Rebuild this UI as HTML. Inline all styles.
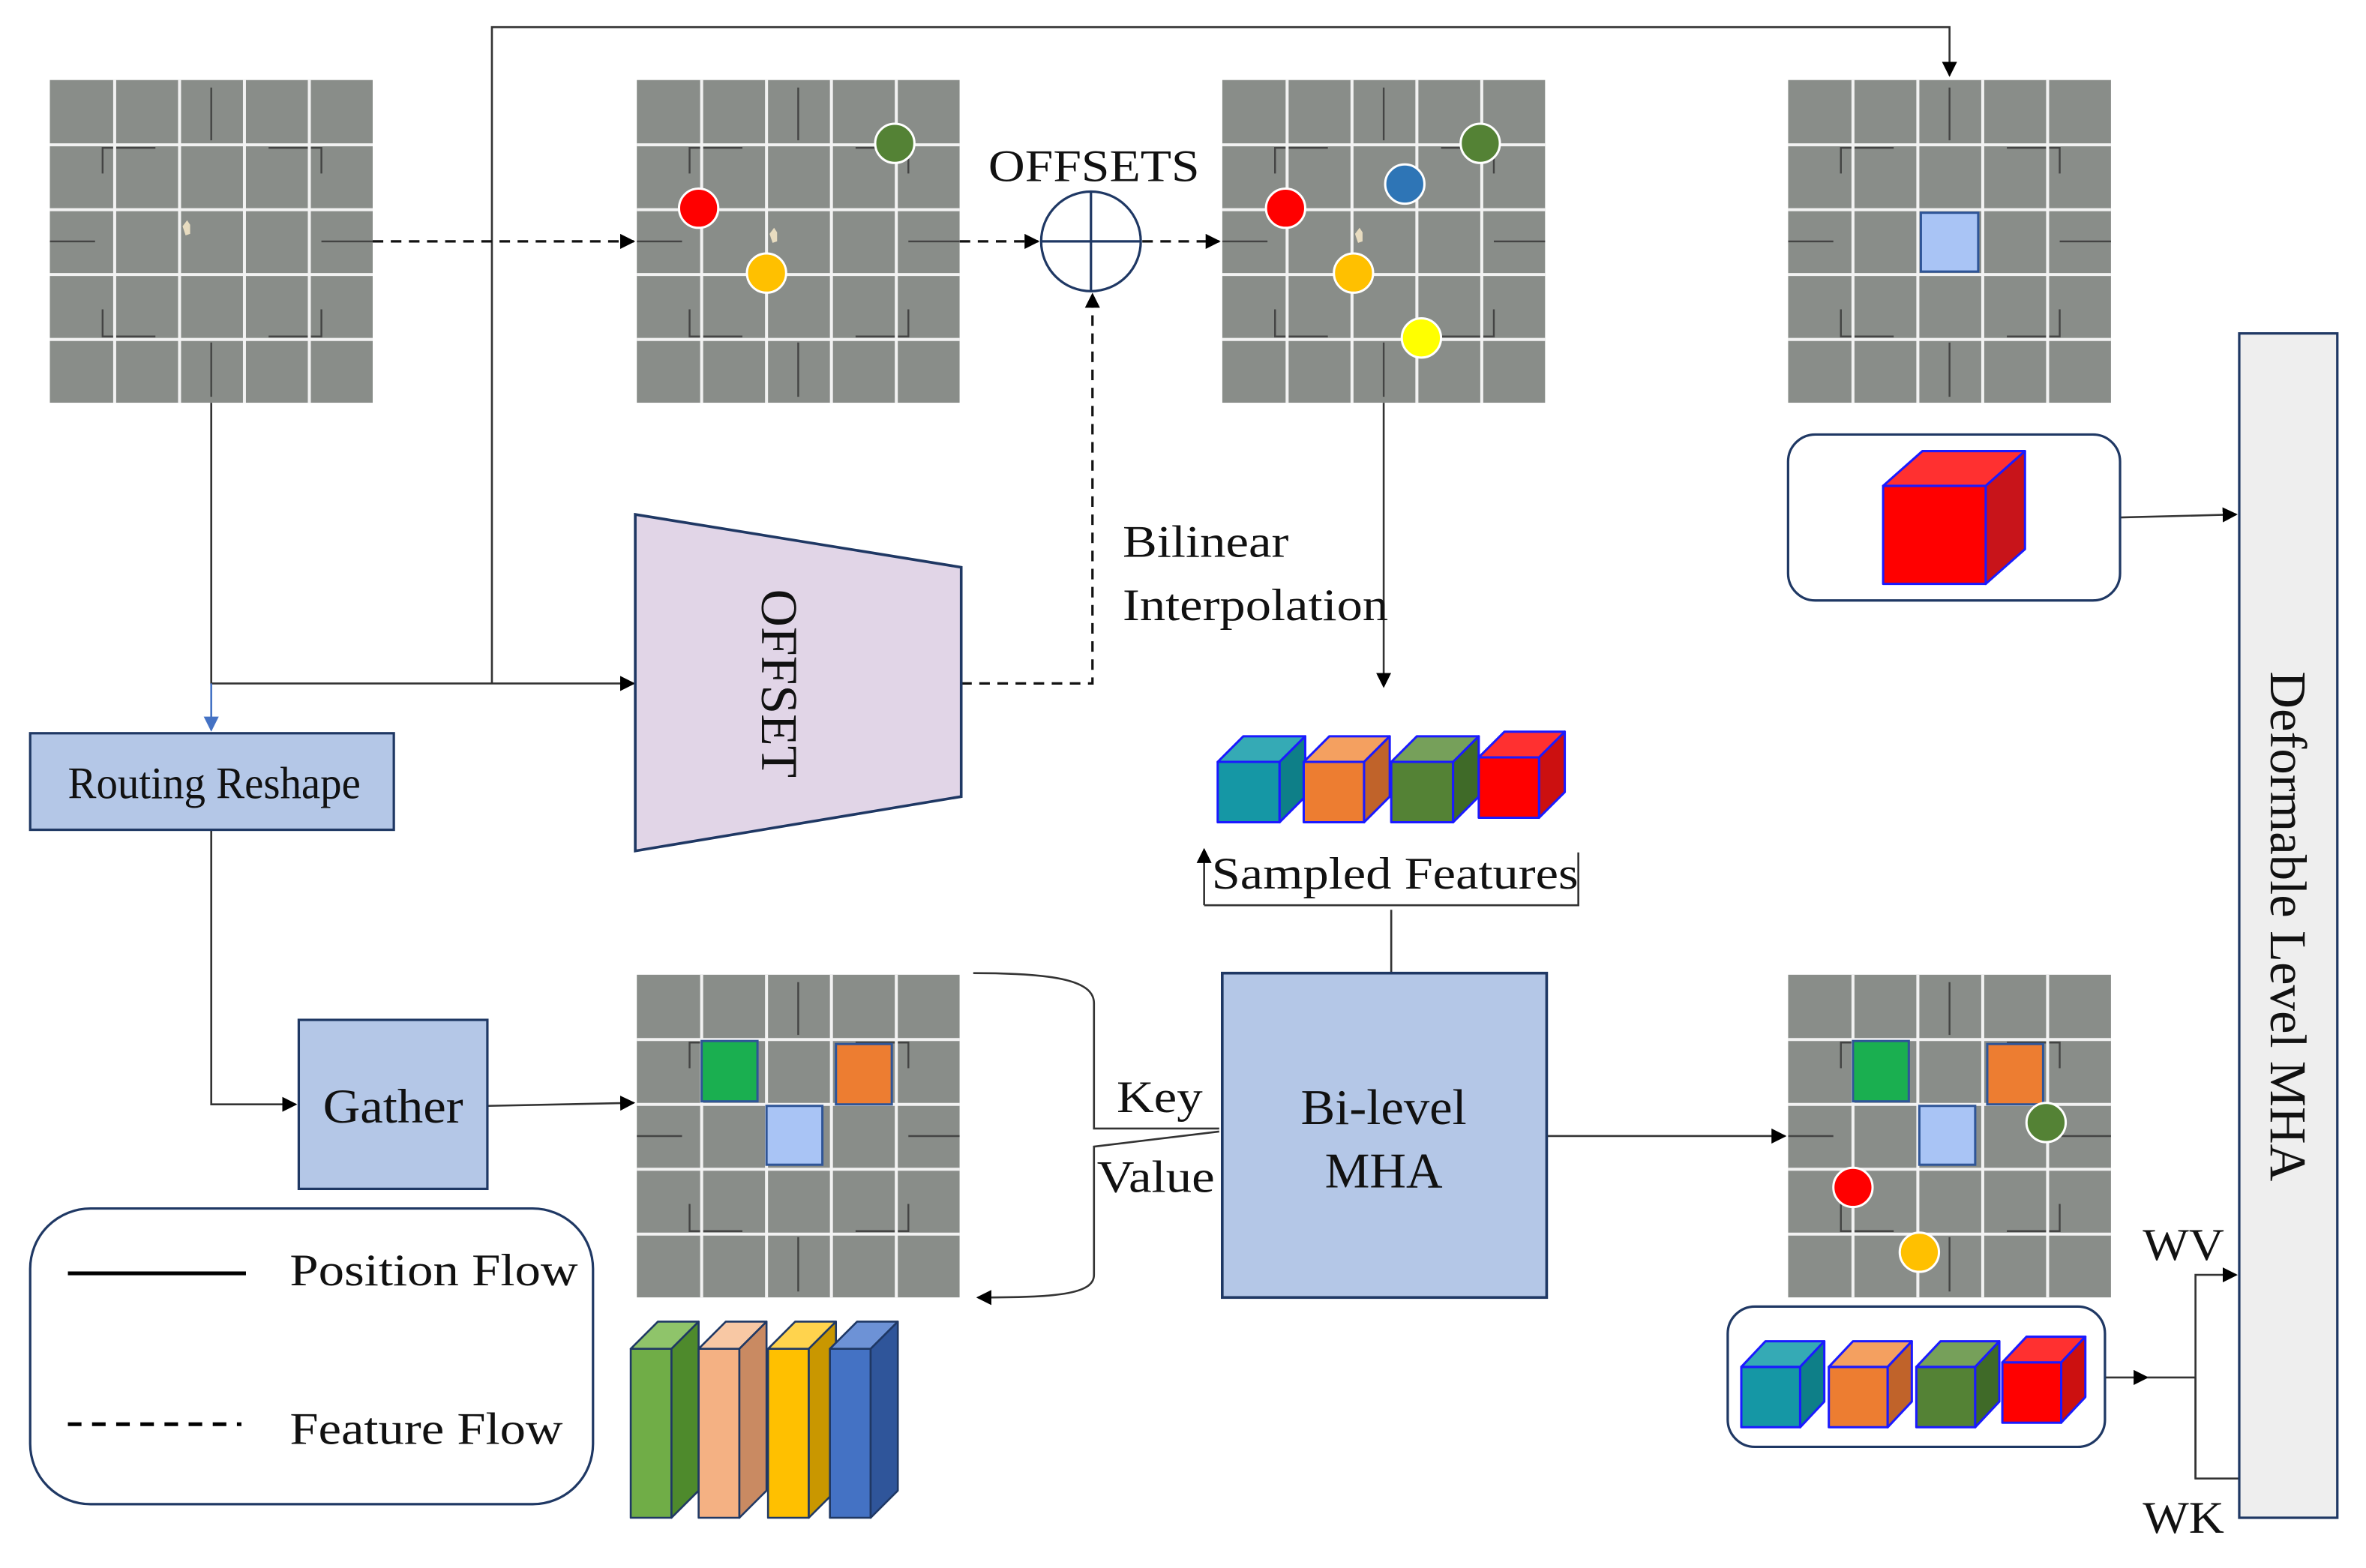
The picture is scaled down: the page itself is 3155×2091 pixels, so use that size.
<!DOCTYPE html>
<html><head><meta charset="utf-8"><style>
html,body{margin:0;padding:0;background:#fff;}
svg{display:block;}
text{font-family:"Liberation Serif",serif;fill:#111;}
</style></head><body>
<svg width="3155" height="2091" viewBox="0 0 1568 1039.3" preserveAspectRatio="none" xmlns="http://www.w3.org/2000/svg">
<defs>
<marker id="ah" markerWidth="10" markerHeight="10" refX="9" refY="5" orient="auto" markerUnits="userSpaceOnUse"><path d="M0,0 L10,5 L0,10 z" fill="#000"/></marker>
<marker id="ahb" markerWidth="10" markerHeight="10" refX="9" refY="5" orient="auto" markerUnits="userSpaceOnUse"><path d="M0,0 L10,5 L0,10 z" fill="#4472c4"/></marker>
<symbol id="grid" viewBox="0 0 214 214" width="214" height="214">
<rect x="0" y="0" width="214" height="214" fill="#898d89"/>
<g stroke="#333" stroke-width="1.2" fill="none" opacity="0.8">
<path d="M107,5 V40 M107,174 V210 M0,107 H30 M180,107 H214"/>
<path d="M35,62 V45 H70 M145,45 H180 V62 M35,152 V170 H70 M145,170 H180 V152"/>
</g>
<g stroke="#f2f2f2" stroke-width="2">
<path d="M43,0V214 M86,0V214 M129,0V214 M172,0V214 M0,43H214 M0,86H214 M0,129H214 M0,172H214"/>
</g>
</symbol>
</defs>

<use href="#grid" x="33" y="53"/>
<path d="M121,150 l3,-4 l2,3 v6 l-3,1 z" fill="#e8dcc0"/>
<use href="#grid" x="422" y="53"/>
<path d="M510,155 l3,-4 l2,3 v6 l-3,1 z" fill="#e8dcc0"/>
<use href="#grid" x="810" y="53"/>
<path d="M898,155 l3,-4 l2,3 v6 l-3,1 z" fill="#e8dcc0"/>
<use href="#grid" x="1185" y="53"/>
<use href="#grid" x="422" y="646"/>
<use href="#grid" x="1185" y="646"/>

<g stroke="#fff" stroke-width="1.5">
<circle cx="463" cy="138" r="13" fill="#ff0000"/>
<circle cx="508" cy="181" r="13" fill="#ffc000"/>
<circle cx="593" cy="95" r="13" fill="#548235"/>
<circle cx="852" cy="138" r="13" fill="#ff0000"/>
<circle cx="931" cy="122" r="13" fill="#2e75b6"/>
<circle cx="981" cy="95" r="13" fill="#548235"/>
<circle cx="897" cy="181" r="13" fill="#ffc000"/>
<circle cx="942" cy="224" r="13" fill="#ffff00"/>
</g>
<rect x="1273" y="141" width="38" height="39" fill="#a9c4f5" stroke="#2f5597" stroke-width="1.5"/>

<g stroke="#2f5597" stroke-width="1.5">
<rect x="465" y="690" width="37" height="40" fill="#1aaf50"/>
<rect x="554" y="692" width="37" height="40" fill="#ed7d31"/>
<rect x="508" y="733" width="37" height="39" fill="#a9c4f5"/>
<rect x="1228" y="690" width="37" height="40" fill="#1aaf50"/>
<rect x="1317" y="692" width="37" height="40" fill="#ed7d31"/>
<rect x="1272" y="733" width="37" height="39" fill="#a9c4f5"/>
</g>
<g stroke="#fff" stroke-width="1.5">
<circle cx="1356" cy="744" r="13" fill="#548235"/>
<circle cx="1228" cy="787" r="13" fill="#ff0000"/>
<circle cx="1272" cy="830" r="13" fill="#ffc000"/>
</g>

<g fill="none" stroke="#333" stroke-width="1.3">
<path d="M326,453 V18 H1292 V50" marker-end="url(#ah)"/>
<path d="M140,267 V453 H420" marker-end="url(#ah)"/>
<path d="M917,267 V455" marker-end="url(#ah)"/>
<path d="M140,550 V732 H196" marker-end="url(#ah)"/>
<path d="M323,733 L420,731" marker-end="url(#ah)"/>
<path d="M1025,753 H1183" marker-end="url(#ah)"/>
<path d="M1405,343 L1482,341" marker-end="url(#ah)"/>
<path d="M1395,913 H1423" marker-end="url(#ah)"/>
<path d="M1423,913 H1455 M1455,980 V845 H1482" marker-end="url(#ah)"/>
<path d="M1455,913 V980 H1484"/>
<path d="M922,645 V603 M798,600 H1046 V565" />
<path d="M798,600 V563" marker-end="url(#ah)"/>
<path d="M645,645 C700,645 725,650 725,665 V748 H808"/>
<path d="M808,750 L725,760 V845 C725,858 700,860 648,860" marker-end="url(#ah)"/>
</g>
<path d="M140,453 V484" stroke="#4472c4" stroke-width="1.3" marker-end="url(#ahb)"/>

<g fill="none" stroke="#111" stroke-width="1.6" stroke-dasharray="7,5">
<path d="M247,160 H420" marker-end="url(#ah)"/>
<path d="M636,160 H688" marker-end="url(#ah)"/>
<path d="M757,160 H808" marker-end="url(#ah)"/>
<path d="M637,453 H724 V195" marker-end="url(#ah)"/>
</g>

<circle cx="723" cy="160" r="33" fill="#fff" stroke="#1f3864" stroke-width="1.6"/>
<path d="M690,160 H756 M723,127 V193" stroke="#1f3864" stroke-width="1.6"/>
<text x="655" y="120" font-size="30" textLength="140" lengthAdjust="spacingAndGlyphs">OFFSETS</text>

<polygon points="421,341 637,376 637,528 421,564" fill="#e1d5e7" stroke="#1f3864" stroke-width="1.8"/>
<text x="0" y="0" font-size="34" text-anchor="middle" textLength="125" lengthAdjust="spacingAndGlyphs" transform="translate(505,453) rotate(90)">OFFSET</text>

<text x="744" y="369" font-size="30" textLength="110" lengthAdjust="spacingAndGlyphs">Bilinear</text>
<text x="744" y="411" font-size="30" textLength="176" lengthAdjust="spacingAndGlyphs">Interpolation</text>

<rect x="20" y="486" width="241" height="64" fill="#b4c7e7" stroke="#1f3864" stroke-width="1.6"/>
<text x="45" y="529" font-size="30" textLength="194" lengthAdjust="spacingAndGlyphs">Routing Reshape</text>
<rect x="198" y="676" width="125" height="112" fill="#b4c7e7" stroke="#1f3864" stroke-width="1.6"/>
<text x="214" y="744" font-size="32" textLength="93" lengthAdjust="spacingAndGlyphs">Gather</text>

<rect x="810" y="645" width="215" height="215" fill="#b4c7e7" stroke="#1f3864" stroke-width="1.8"/>
<text x="862" y="745" font-size="33" textLength="110" lengthAdjust="spacingAndGlyphs">Bi-level</text>
<text x="878" y="787" font-size="33" textLength="78" lengthAdjust="spacingAndGlyphs">MHA</text>

<text x="740" y="737" font-size="30" textLength="57" lengthAdjust="spacingAndGlyphs">Key</text>
<text x="727" y="790" font-size="30" textLength="78" lengthAdjust="spacingAndGlyphs">Value</text>
<text x="803" y="589" font-size="30" textLength="243" lengthAdjust="spacingAndGlyphs">Sampled Features</text>

<rect x="20" y="801" width="373" height="196" rx="40" fill="#fff" stroke="#1f3864" stroke-width="1.6"/>
<path d="M45,844 H163" stroke="#000" stroke-width="2.5"/>
<path d="M45,944 H160" stroke="#000" stroke-width="2.5" stroke-dasharray="9,7"/>
<text x="192" y="852" font-size="30" textLength="191" lengthAdjust="spacingAndGlyphs">Position Flow</text>
<text x="192" y="957" font-size="30" textLength="181" lengthAdjust="spacingAndGlyphs">Feature Flow</text>

<rect x="1484" y="221" width="65" height="785" fill="#eeeeee" stroke="#1f3864" stroke-width="1.6"/>
<text font-size="34" textLength="338" lengthAdjust="spacingAndGlyphs" transform="translate(1505,445) rotate(90)">Deformable Level MHA</text>
<text x="1420" y="835" font-size="30" textLength="54" lengthAdjust="spacingAndGlyphs">WV</text>
<text x="1420" y="1016" font-size="30" textLength="54" lengthAdjust="spacingAndGlyphs">WK</text>

<rect x="1185" y="288" width="220" height="110" rx="18" fill="#fff" stroke="#1f3864" stroke-width="1.6"/>
<rect x="1145" y="866" width="250" height="93" rx="18" fill="#fff" stroke="#1f3864" stroke-width="1.6"/>

<g stroke="#1a1aff" stroke-width="1.5" stroke-linejoin="round">
<rect x="1248" y="322" width="68" height="65" fill="#ff0000"/>
<polygon points="1248,322 1274,299 1342,299 1316,322" fill="#ff3030"/>
<polygon points="1316,322 1342,299 1342,364 1316,387" fill="#c8141a"/>

<rect x="807" y="505" width="41" height="40" fill="#1597a5"/>
<polygon points="807,505 824,488 865,488 848,505" fill="#35aab5"/>
<polygon points="848,505 865,488 865,528 848,545" fill="#0e7f88"/>
<rect x="864" y="505" width="40" height="40" fill="#ed7d31"/>
<polygon points="864,505 881,488 921,488 904,505" fill="#f4a060"/>
<polygon points="904,505 921,488 921,528 904,545" fill="#c0632a"/>
<rect x="922" y="505" width="41" height="40" fill="#548235"/>
<polygon points="922,505 939,488 980,488 963,505" fill="#76a05a"/>
<polygon points="963,505 980,488 980,528 963,545" fill="#3f6a28"/>
<rect x="980" y="502" width="40" height="40" fill="#ff0000"/>
<polygon points="980,502 997,485 1037,485 1020,502" fill="#ff3030"/>
<polygon points="1020,502 1037,485 1037,525 1020,542" fill="#cc1010"/>

<rect x="1154" y="906" width="39" height="40" fill="#1597a5"/>
<polygon points="1154,906 1170,889 1209,889 1193,906" fill="#35aab5"/>
<polygon points="1193,906 1209,889 1209,929 1193,946" fill="#0e7f88"/>
<rect x="1212" y="906" width="39" height="40" fill="#ed7d31"/>
<polygon points="1212,906 1228,889 1267,889 1251,906" fill="#f4a060"/>
<polygon points="1251,906 1267,889 1267,929 1251,946" fill="#c0632a"/>
<rect x="1270" y="906" width="39" height="40" fill="#548235"/>
<polygon points="1270,906 1286,889 1325,889 1309,906" fill="#76a05a"/>
<polygon points="1309,906 1325,889 1325,929 1309,946" fill="#3f6a28"/>
<rect x="1327" y="903" width="39" height="40" fill="#ff0000"/>
<polygon points="1327,903 1343,886 1382,886 1366,903" fill="#ff3030"/>
<polygon points="1366,903 1382,886 1382,926 1366,943" fill="#cc1010"/>
</g>

<g stroke="#1f3864" stroke-width="1.3" stroke-linejoin="round">
<rect x="418" y="894" width="27" height="112" fill="#70ad47"/>
<polygon points="418,894 436,876 463,876 445,894" fill="#8fc46a"/>
<polygon points="445,894 463,876 463,988 445,1006" fill="#4e8a2c"/>
<rect x="463" y="894" width="27" height="112" fill="#f4b183"/>
<polygon points="463,894 481,876 508,876 490,894" fill="#f8c8a4"/>
<polygon points="490,894 508,876 508,988 490,1006" fill="#c98a62"/>
<rect x="509" y="894" width="27" height="112" fill="#ffc000"/>
<polygon points="509,894 527,876 554,876 536,894" fill="#ffd34d"/>
<polygon points="536,894 554,876 554,988 536,1006" fill="#c99700"/>
<rect x="550" y="894" width="27" height="112" fill="#4472c4"/>
<polygon points="550,894 568,876 595,876 577,894" fill="#6d92d6"/>
<polygon points="577,894 595,876 595,988 577,1006" fill="#2f559a"/>
</g>
</svg>
</body></html>
